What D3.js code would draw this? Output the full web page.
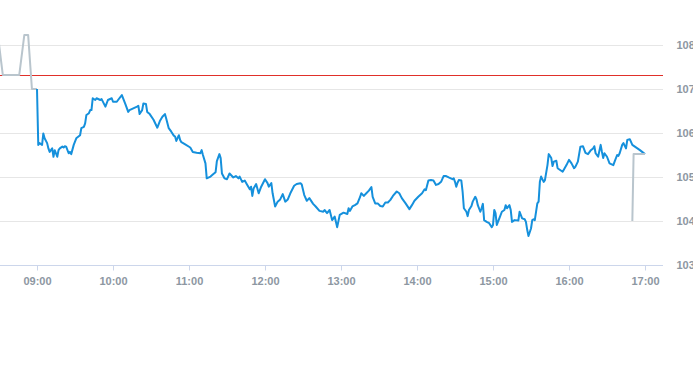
<!DOCTYPE html>
<html>
<head>
<meta charset="utf-8">
<script src="https://cdn.jsdelivr.net/npm/d3@7"></script>
<style>
  html, body { margin: 0; padding: 0; background: #ffffff; }
  svg { display: block; }
  .tick text { font-family: "Liberation Sans", Arial, sans-serif; font-size: 11px; font-weight: bold; fill: #8d97a2; }
</style>
</head>
<body>
<div id="chart"></div>
<script>
// ---------- data ----------
const preTimes  = ["08:30","08:33","08:46","08:50","08:53","08:56","09:00"];
const preValues = [108.02,107.32,107.32,108.23,108.23,107.00,107.00];

const sessionTimes = [
"09:00","09:01","09:02","09:04","09:05","09:06","09:08","09:09","09:10","09:12","09:13","09:14","09:16","09:17","09:18","09:20","09:21","09:22","09:23","09:25","09:26","09:27","09:29","09:31","09:34","09:35","09:37","09:38","09:39","09:41","09:42","09:43","09:44","09:46","09:47","09:50","09:51","09:54","09:56","09:59",
"10:00","10:03","10:04","10:07","10:10","10:12","10:13","10:16","10:19","10:20","10:21","10:23","10:24","10:26","10:27","10:29","10:32","10:35","10:37","10:39","10:41","10:42","10:44","10:46","10:48","10:49","10:50","10:52","10:53","10:54","10:57",
"11:01","11:03","11:06","11:09","11:10","11:11","11:13","11:14","11:17","11:19","11:21","11:22","11:24","11:25","11:26","11:28","11:30","11:32","11:35","11:37","11:39","11:40","11:42","11:44","11:46","11:48","11:49","11:50","11:51","11:53","11:55","11:57",
"12:00","12:02","12:03","12:05","12:06","12:08","12:10","12:12","12:14","12:16","12:18","12:20","12:23","12:25","12:28","12:29","12:31","12:33","12:35","12:38","12:40","12:43","12:46","12:47","12:49","12:51","12:53","12:55","12:57","12:59",
"13:02","13:05","13:06","13:07","13:09","13:11","13:13","13:15","13:16","13:18","13:20","13:22","13:24","13:25","13:27","13:29","13:31","13:33","13:35","13:37","13:39","13:41","13:44","13:46","13:48","13:51","13:54","13:56","13:58",
"14:01","14:04","14:06","14:07","14:09","14:11","14:13","14:15","14:17","14:19","14:21","14:23","14:25","14:28","14:29","14:30","14:31","14:32","14:33","14:35","14:36","14:37","14:39","14:40","14:41","14:43","14:44","14:46","14:47","14:48","14:50","14:51","14:52","14:53","14:55","14:57","14:59",
"15:00","15:01","15:02","15:03","15:05","15:07","15:09","15:10","15:11","15:13","15:14","15:15","15:17","15:20","15:21","15:23","15:25","15:26","15:27","15:28","15:30","15:31","15:32","15:33","15:35","15:36","15:37","15:38","15:40","15:41","15:43","15:44","15:46","15:47","15:48","15:50","15:51","15:53","15:55","15:58",
"16:00","16:02","16:04","16:05","16:07","16:09","16:11","16:13","16:15","16:17","16:19","16:20","16:21","16:23","16:25","16:26","16:27","16:28","16:30","16:32","16:35","16:36","16:38","16:39","16:40","16:42","16:43","16:45","16:46","16:48","16:50","16:52","16:56","17:00"
];
const sessionValues = [
107.00,105.73,105.77,105.73,105.99,105.88,105.77,105.65,105.57,105.65,105.46,105.61,105.46,105.61,105.65,105.69,105.67,105.70,105.69,105.54,105.57,105.52,105.73,105.88,105.95,106.11,106.14,106.22,106.41,106.45,106.52,106.52,106.79,106.75,106.79,106.75,106.77,106.60,106.75,106.79,
106.71,106.71,106.75,106.86,106.64,106.48,106.52,106.56,106.60,106.62,106.43,106.52,106.67,106.66,106.48,106.43,106.30,106.12,106.27,106.37,106.43,106.33,106.11,106.03,105.94,105.92,105.82,105.95,105.84,105.79,105.74,
105.67,105.57,105.55,105.54,105.61,105.50,105.31,104.97,105.01,105.06,105.11,105.36,105.52,105.43,105.08,104.97,104.95,105.08,104.99,105.02,104.97,105.01,104.89,104.92,104.82,104.72,104.78,104.57,104.74,104.84,104.63,104.78,
104.95,104.86,104.78,104.86,104.63,104.33,104.44,104.49,104.61,104.44,104.49,104.63,104.80,104.84,104.86,104.83,104.59,104.46,104.52,104.39,104.33,104.23,104.21,104.25,104.18,104.25,104.02,104.10,103.86,104.14,
104.19,104.16,104.29,104.23,104.33,104.36,104.40,104.54,104.63,104.57,104.63,104.69,104.77,104.55,104.40,104.40,104.34,104.33,104.42,104.42,104.48,104.57,104.67,104.63,104.52,104.40,104.27,104.36,104.46,
104.55,104.63,104.72,104.70,104.92,104.93,104.92,104.82,104.84,104.89,105.02,105.02,104.99,104.95,104.97,104.89,104.78,104.87,104.93,104.92,104.67,104.29,104.21,104.11,104.25,104.34,104.44,104.55,104.49,104.36,104.21,104.29,104.39,104.02,103.98,103.95,103.86,
103.91,104.25,104.18,103.91,104.06,104.21,104.25,104.36,104.29,104.36,104.25,103.98,104.02,104.01,104.21,104.06,104.04,103.98,103.80,103.66,103.83,104.02,104.04,104.02,104.40,104.44,104.89,105.01,104.89,104.93,105.27,105.52,105.43,105.25,105.35,105.37,105.20,105.16,105.12,105.27,
105.39,105.31,105.20,105.23,105.35,105.69,105.70,105.55,105.52,105.60,105.65,105.70,105.54,105.46,105.73,105.57,105.43,105.54,105.46,105.31,105.27,105.35,105.50,105.48,105.54,105.73,105.77,105.65,105.84,105.86,105.73,105.69,105.61,105.52
];

const postTimes  = ["16:50","16:51","17:00"];
const postValues = [104.00,105.52,105.52];

const referenceLevel = 107.31;
const yTickValues = [103,104,105,106,107,108];
const xTickLabels = ["09:00","10:00","11:00","12:00","13:00","14:00","15:00","16:00","17:00"];
const xDomainLabels = ["08:30","17:15"];

// ---------- chart ----------
const W = 693, H = 365;
const plotLeft = 0, plotRight = 663, plotTop = 45, plotBottom = 265;
const parse = d3.timeParse("%H:%M");
const fmt = d3.timeFormat("%H:%M");

const x = d3.scaleTime()
  .domain(xDomainLabels.map(parse))
  .range([-1, 664]);
const y = d3.scaleLinear().domain([103, 108]).range([plotBottom, plotTop]);

const svg = d3.select("#chart").append("svg").attr("width", W).attr("height", H);

// gridlines
svg.append("g").selectAll("line")
  .data(yTickValues.filter(v => v !== 103))
  .join("line")
  .attr("x1", plotLeft).attr("x2", plotRight)
  .attr("y1", d => Math.round(y(d)) + 0.5).attr("y2", d => Math.round(y(d)) + 0.5)
  .attr("stroke", "#e6e6e6").attr("stroke-width", 1);

// x axis
const xAxis = d3.axisBottom(x)
  .tickValues(xTickLabels.map(parse))
  .tickFormat(fmt)
  .tickSize(5).tickSizeOuter(0).tickPadding(7);
const gx = svg.append("g").attr("transform", `translate(0,${plotBottom + 0.5})`).call(xAxis);
gx.select(".domain").attr("stroke", "#ccd6eb").attr("d", `M${plotLeft},0H${plotRight}`);
gx.selectAll(".tick line").attr("stroke", "#ccd6eb");

// y axis (labels on right)
const yAxis = d3.axisRight(y).tickValues(yTickValues).tickFormat(d3.format("d")).tickSize(0).tickPadding(13);
const gy = svg.append("g").attr("transform", `translate(${plotRight + 0.5},0)`).call(yAxis);
gy.select(".domain").remove();
gy.selectAll(".tick text").attr("dy", "0.35em");

// reference line
svg.append("rect")
  .attr("x", plotLeft).attr("width", plotRight - plotLeft)
  .attr("y", Math.round(y(referenceLevel))).attr("height", 1)
  .attr("fill", "#e0302a").attr("shape-rendering", "crispEdges");

const line = d3.line().x(d => x(d[0])).y(d => y(d[1])).curve(d3.curveLinear);
const zip = (ts, vs) => ts.map((t, i) => [parse(t), vs[i]]);

const clip = svg.append("clipPath").attr("id", "plotclip").append("rect")
  .attr("x", plotLeft).attr("y", 0).attr("width", plotRight - plotLeft).attr("height", plotBottom);

const lines = svg.append("g").attr("clip-path", "url(#plotclip)");
lines.append("path").datum(zip(preTimes, preValues)).attr("d", line)
  .attr("fill", "none").attr("stroke", "#b9c5cd").attr("stroke-width", 2).attr("stroke-linejoin", "round");
lines.append("path").datum(zip(sessionTimes, sessionValues)).attr("d", line)
  .attr("fill", "none").attr("stroke", "#1590dc").attr("stroke-width", 2).attr("stroke-linejoin", "round");
lines.append("path").datum(zip(postTimes, postValues)).attr("d", line)
  .attr("fill", "none").attr("stroke", "#b9c5cd").attr("stroke-width", 2).attr("stroke-linejoin", "round");
</script>
</body>
</html>
